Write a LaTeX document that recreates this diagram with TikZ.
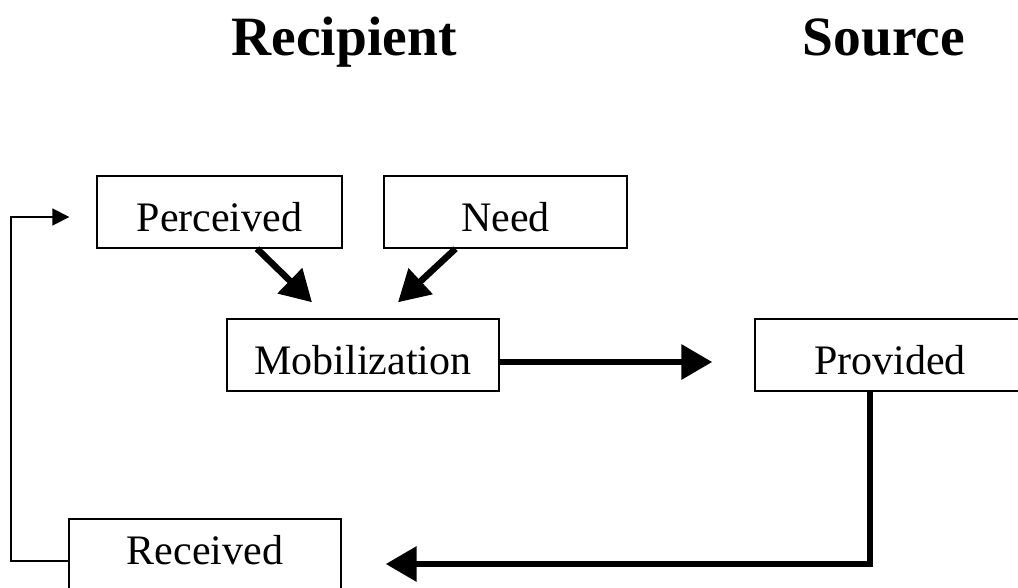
\documentclass[tikz,border=0pt]{standalone}
\usepackage{fontspec}
\setmainfont{Liberation Serif}
\usetikzlibrary{arrows.meta,calc}
\begin{document}
\begin{tikzpicture}[x=1pt,y=-1pt,
  box/.style={draw,line width=1.4pt,rectangle,inner sep=0pt,minimum height=72pt,
    text height=38pt,text depth=0pt,font=\fontsize{42}{48}\selectfont},
  title/.style={anchor=base,font=\fontsize{55.5}{60}\selectfont\bfseries},
  thick arrow/.style={line width=6.5pt,-{Triangle[length=31pt,width=34pt]}},
  thin arrow/.style={line width=1.8pt,-{Triangle[length=17pt,width=17pt]}}]
\useasboundingbox (0,0) rectangle (1018,587);
\clip (0,0) rectangle (1018,587);
\fill[white] (0,0) rectangle (1018,587);
\node[title] (trec) at (344,55) {Recipient};
\node[title] (tsrc) at (884,55) {Source};
\node[box,minimum width=245pt] (perc) at (219.5,212) {Perceived};
\node[box,minimum width=243pt] (need) at (505.5,212) {Need};
\node[box,minimum width=272pt] (mob) at (363,355) {Mobilization};
\node[box,minimum width=270pt] (prov) at (890,355) {Provided};
\node[box,minimum width=272pt,minimum height=90pt,text height=20pt,text depth=20pt] (rec) at (205,564) {Received};
\draw[thick arrow] ([xshift=37.5pt]perc.south) -- ([xshift=-51pt,yshift=16pt]mob.north);
\draw[thick arrow] ([xshift=-50pt]need.south) -- ([xshift=35pt,yshift=16pt]mob.north);
\draw[thick arrow] ([yshift=-7pt]mob.east) -- ([xshift=-42pt,yshift=-7pt]prov.west);
\draw[thick arrow] ([xshift=-20pt]prov.south) |- ([xshift=44pt]rec.east);
\draw[thin arrow] ([yshift=3pt]rec.west) -- ++(-57,0) |- ([xshift=-27pt,yshift=-5pt]perc.west);
\end{tikzpicture}
\end{document}
